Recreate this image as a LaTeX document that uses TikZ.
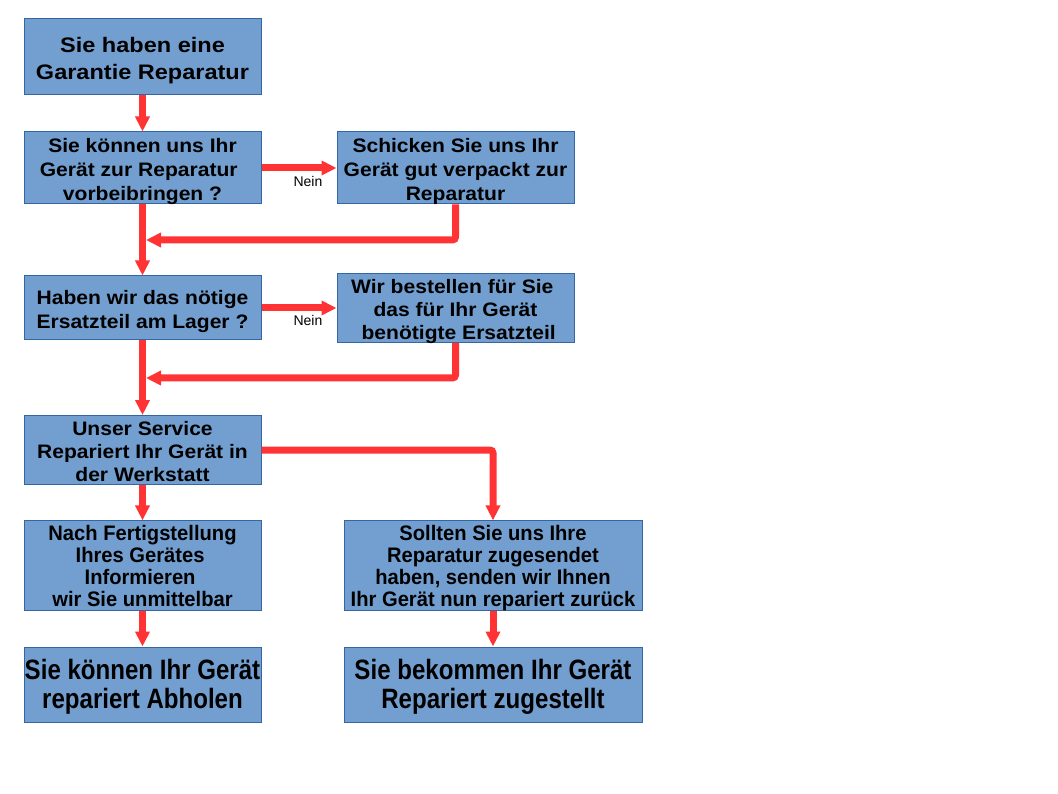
\documentclass[tikz,border=0pt]{standalone}
\usepackage{fontspec}
\usepackage{graphicx}
\setmainfont{Liberation Sans}
\usetikzlibrary{arrows.meta}
\definecolor{boxfill}{HTML}{729FCF}
\definecolor{boxline}{HTML}{3465A4}
\definecolor{arrred}{HTML}{FF3333}
\newcommand\boxtext[4]{\raisebox{-3.5pt}[\height][\depth]{\scalebox{#1}[1]{\fontsize{#2}{#3}\selectfont\bfseries\begin{tabular}{@{}c@{}}#4\end{tabular}}}}
\tikzset{
  flowbox/.style={draw=boxline, fill=boxfill, line width=1pt, rectangle, inner sep=0pt, minimum width=237pt},
  widebox/.style={flowbox, minimum width=298pt},
  arr/.style={draw=arrred, line width=7pt, rounded corners=3pt, -{Triangle[length=15pt,width=14pt]}},
  neinlabel/.style={font=\fontsize{14}{16}\selectfont, inner sep=0pt}
}
\begin{document}
\begin{tikzpicture}[x=1pt,y=-1pt]
\useasboundingbox[fill=white] (0,0) rectangle (1058,794);
\node[flowbox, minimum height=76pt] (b1) at (142.5,57) {\boxtext{1.12}{21}{27}{Sie haben eine\\Garantie Reparatur}};
\node[flowbox, minimum height=72pt] (b2) at (142.5,168) {\boxtext{1.08}{19.5}{24}{Sie können uns Ihr\\Gerät zur Reparatur\hspace*{7pt}\\vorbeibringen ?}};
\node[flowbox, minimum height=72pt] (b3) at (455.5,168) {\boxtext{1.08}{19.5}{24}{Schicken Sie uns Ihr\\Gerät gut verpackt zur\\Reparatur}};
\node[flowbox, minimum height=64pt] (b4) at (142.5,308) {\boxtext{1.08}{19.5}{24}{Haben wir das nötige\\Ersatzteil am Lager ?}};
\node[flowbox, minimum height=64pt] (b5) at (455.5,308) {\boxtext{1.08}{19.5}{23}{Wir bestellen für Sie\hspace*{6pt}\\das für Ihr Gerät\\\hspace*{6pt}benötigte Ersatzteil}};
\node[flowbox, minimum height=68pt] (b6) at (142.5,450) {\boxtext{1.08}{19.5}{23}{Unser Service\\Repariert Ihr Gerät in\\der Werkstatt}};
\node[flowbox, minimum height=87pt] (b7) at (142.5,565.5) {\boxtext{0.96}{21}{22.3}{Nach Fertigstellung\\Ihres Gerätes\hspace*{5pt}\\Informieren\hspace*{5pt}\\wir Sie unmittelbar}};
\node[widebox, minimum height=87pt] (b8) at (493,565.5) {\boxtext{0.96}{21}{22.3}{Sollten Sie uns Ihre\\Reparatur zugesendet\\haben, senden wir Ihnen\\Ihr Gerät nun repariert zurück}};
\node[flowbox, minimum height=75pt] (b9) at (142.5,684.5) {\boxtext{0.86}{28}{27}{Sie können Ihr Gerät\\repariert Abholen}};
\node[widebox, minimum height=75pt] (b10) at (493,684.5) {\boxtext{0.86}{28}{27}{Sie bekommen Ihr Gerät\\Repariert zugestellt}};
\coordinate (j1) at (146,240);
\coordinate (j2) at (146,378);
\draw[arr] (b1.south) -- (b2.north);
\draw[arr] (b2.east) -- (b3.west) node[neinlabel, pos=0.62, below=5pt] (n1) {Nein};
\draw[arr] (b2.south) -- (b4.north);
\draw[arr] (b3.south) |- (j1);
\draw[arr] (b4.east) -- (b5.west) node[neinlabel, pos=0.62, below=4pt] (n2) {Nein};
\draw[arr] (b4.south) -- (b6.north);
\draw[arr] (b5.south) |- (j2);
\draw[arr] (b6.east) -| (b8.north);
\draw[arr] (b6.south) -- (b7.north);
\draw[arr] (b7.south) -- (b9.north);
\draw[arr] (b8.south) -- (b10.north);
\end{tikzpicture}
\end{document}
